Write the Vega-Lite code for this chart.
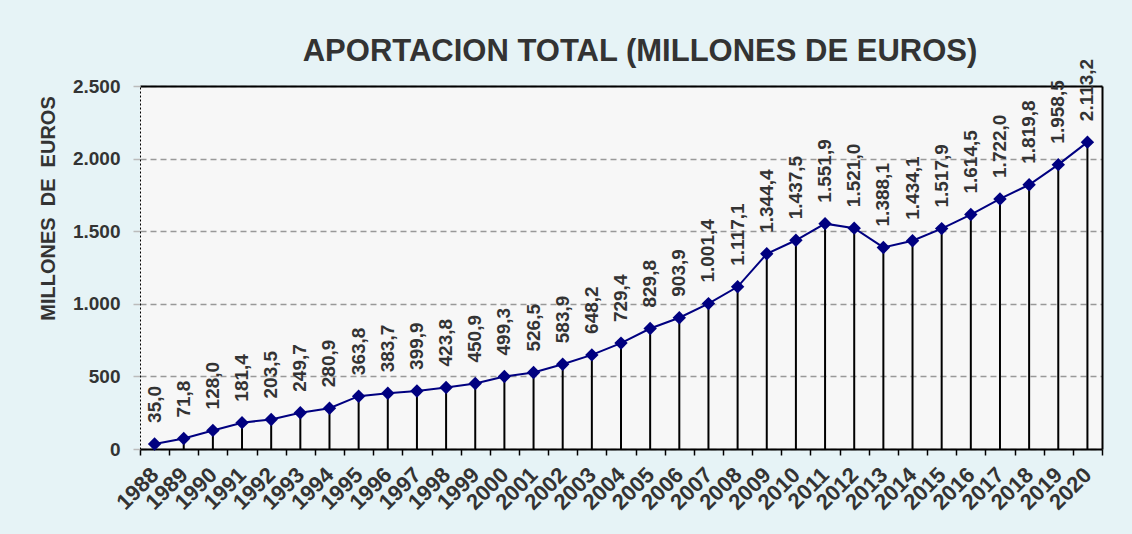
{
  "$schema": "https://vega.github.io/schema/vega-lite/v6.json",
  "autosize": {"type": "none"},
  "width": 962,
  "height": 363,
  "padding": {"left": 140, "top": 86, "right": 30, "bottom": 85},
  "background": "#e6f3f6",
  "config": {
    "locale": {"number": {"decimal": ",", "thousands": ".", "grouping": [3], "currency": ["", " €"]}},
    "view": {"fill": "#f7f7f7", "stroke": null},
    "font": "Liberation Sans",
    "axis": {"labelFont": "Liberation Sans", "titleFont": "Liberation Sans", "labelFontWeight": "bold", "titleFontWeight": "bold", "labelColor": "#333333", "titleColor": "#333333"}
  },
  "title": {
    "text": "APORTACION TOTAL (MILLONES DE EUROS)",
    "anchor": "middle",
    "fontSize": 31,
    "font": "Liberation Sans",
    "fontWeight": "bold",
    "color": "#333333",
    "offset": -9,
    "dx": 19
  },
  "data": {
    "values": [
      {"year": "1988", "value": 35.0},
      {"year": "1989", "value": 71.8},
      {"year": "1990", "value": 128.0},
      {"year": "1991", "value": 181.4},
      {"year": "1992", "value": 203.5},
      {"year": "1993", "value": 249.7},
      {"year": "1994", "value": 280.9},
      {"year": "1995", "value": 363.8},
      {"year": "1996", "value": 383.7},
      {"year": "1997", "value": 399.9},
      {"year": "1998", "value": 423.8},
      {"year": "1999", "value": 450.9},
      {"year": "2000", "value": 499.3},
      {"year": "2001", "value": 526.5},
      {"year": "2002", "value": 583.9},
      {"year": "2003", "value": 648.2},
      {"year": "2004", "value": 729.4},
      {"year": "2005", "value": 829.8},
      {"year": "2006", "value": 903.9},
      {"year": "2007", "value": 1001.4},
      {"year": "2008", "value": 1117.1},
      {"year": "2009", "value": 1344.4},
      {"year": "2010", "value": 1437.5},
      {"year": "2011", "value": 1551.9},
      {"year": "2012", "value": 1521.0},
      {"year": "2013", "value": 1388.1},
      {"year": "2014", "value": 1434.1},
      {"year": "2015", "value": 1517.9},
      {"year": "2016", "value": 1614.5},
      {"year": "2017", "value": 1722.0},
      {"year": "2018", "value": 1819.8},
      {"year": "2019", "value": 1958.5},
      {"year": "2020", "value": 2113.2}
    ]
  },
  "resolve": {"axis": {"x": "independent", "y": "independent"}},
  "layer": [
    {
      "mark": {"type": "rule", "color": "#000000", "strokeWidth": 2},
      "encoding": {
        "x": {
          "field": "year", "type": "ordinal",
          "scale": {"type": "band", "paddingInner": 0, "paddingOuter": 0},
          "axis": {
            "orient": "bottom", "title": null, "labelAngle": -45, "labelAlign": "right", "labelBaseline": "middle",
            "labelFontSize": 22, "labelPadding": 16, "tickBand": "extent", "tickColor": "#000000", "tickSize": 6, "tickWidth": 1.5,
            "domainColor": "#000000", "domainWidth": 2, "grid": false
          }
        },
        "y": {
          "field": "value", "type": "quantitative",
          "scale": {"domain": [0, 2500], "nice": false},
          "axis": {
            "orient": "left", "values": [0, 500, 1000, 1500, 2000, 2500], "format": ",d",
            "title": "MILLONES\u00a0 DE\u00a0 EUROS", "titleFontSize": 20, "titleX": -82, "titleY": 122, "titleAngle": 270, "titleAlign": "center", "titleBaseline": "bottom",
            "labelFontSize": 19, "labelPadding": 13, "tickColor": "#bbbbbb", "tickSize": 7, "tickWidth": 1.5,
            "domainColor": "#000000", "domainDash": [2, 2], "domainWidth": 1,
            "grid": true, "gridColor": "#999999", "gridDash": [6, 4], "gridWidth": 1.5
          }
        },
        "y2": {"datum": 0}
      }
    },
    {
      "mark": {"type": "line", "color": "#000080", "strokeWidth": 2},
      "encoding": {
        "x": {"field": "year", "type": "ordinal", "axis": null},
        "y": {"field": "value", "type": "quantitative", "axis": null}
      }
    },
    {
      "mark": {"type": "point", "shape": "diamond", "filled": true, "color": "#000080", "opacity": 1, "size": 180},
      "encoding": {
        "x": {"field": "year", "type": "ordinal", "axis": null},
        "y": {"field": "value", "type": "quantitative", "axis": null}
      }
    },
    {
      "mark": {"type": "text", "angle": 270, "align": "left", "baseline": "middle", "dx": 21, "fontSize": 19, "fontWeight": "bold", "color": "#333333", "font": "Liberation Sans"},
      "encoding": {
        "x": {"field": "year", "type": "ordinal", "axis": {"orient": "top", "labels": false, "ticks": false, "title": null, "grid": false, "domainColor": "#000000", "domainWidth": 2}},
        "y": {"field": "value", "type": "quantitative", "axis": {"orient": "right", "labels": false, "ticks": false, "title": null, "grid": false, "domainColor": "#000000", "domainWidth": 2}},
        "text": {"field": "value", "type": "quantitative", "format": ",.1f"}
      }
    }
  ]
}
